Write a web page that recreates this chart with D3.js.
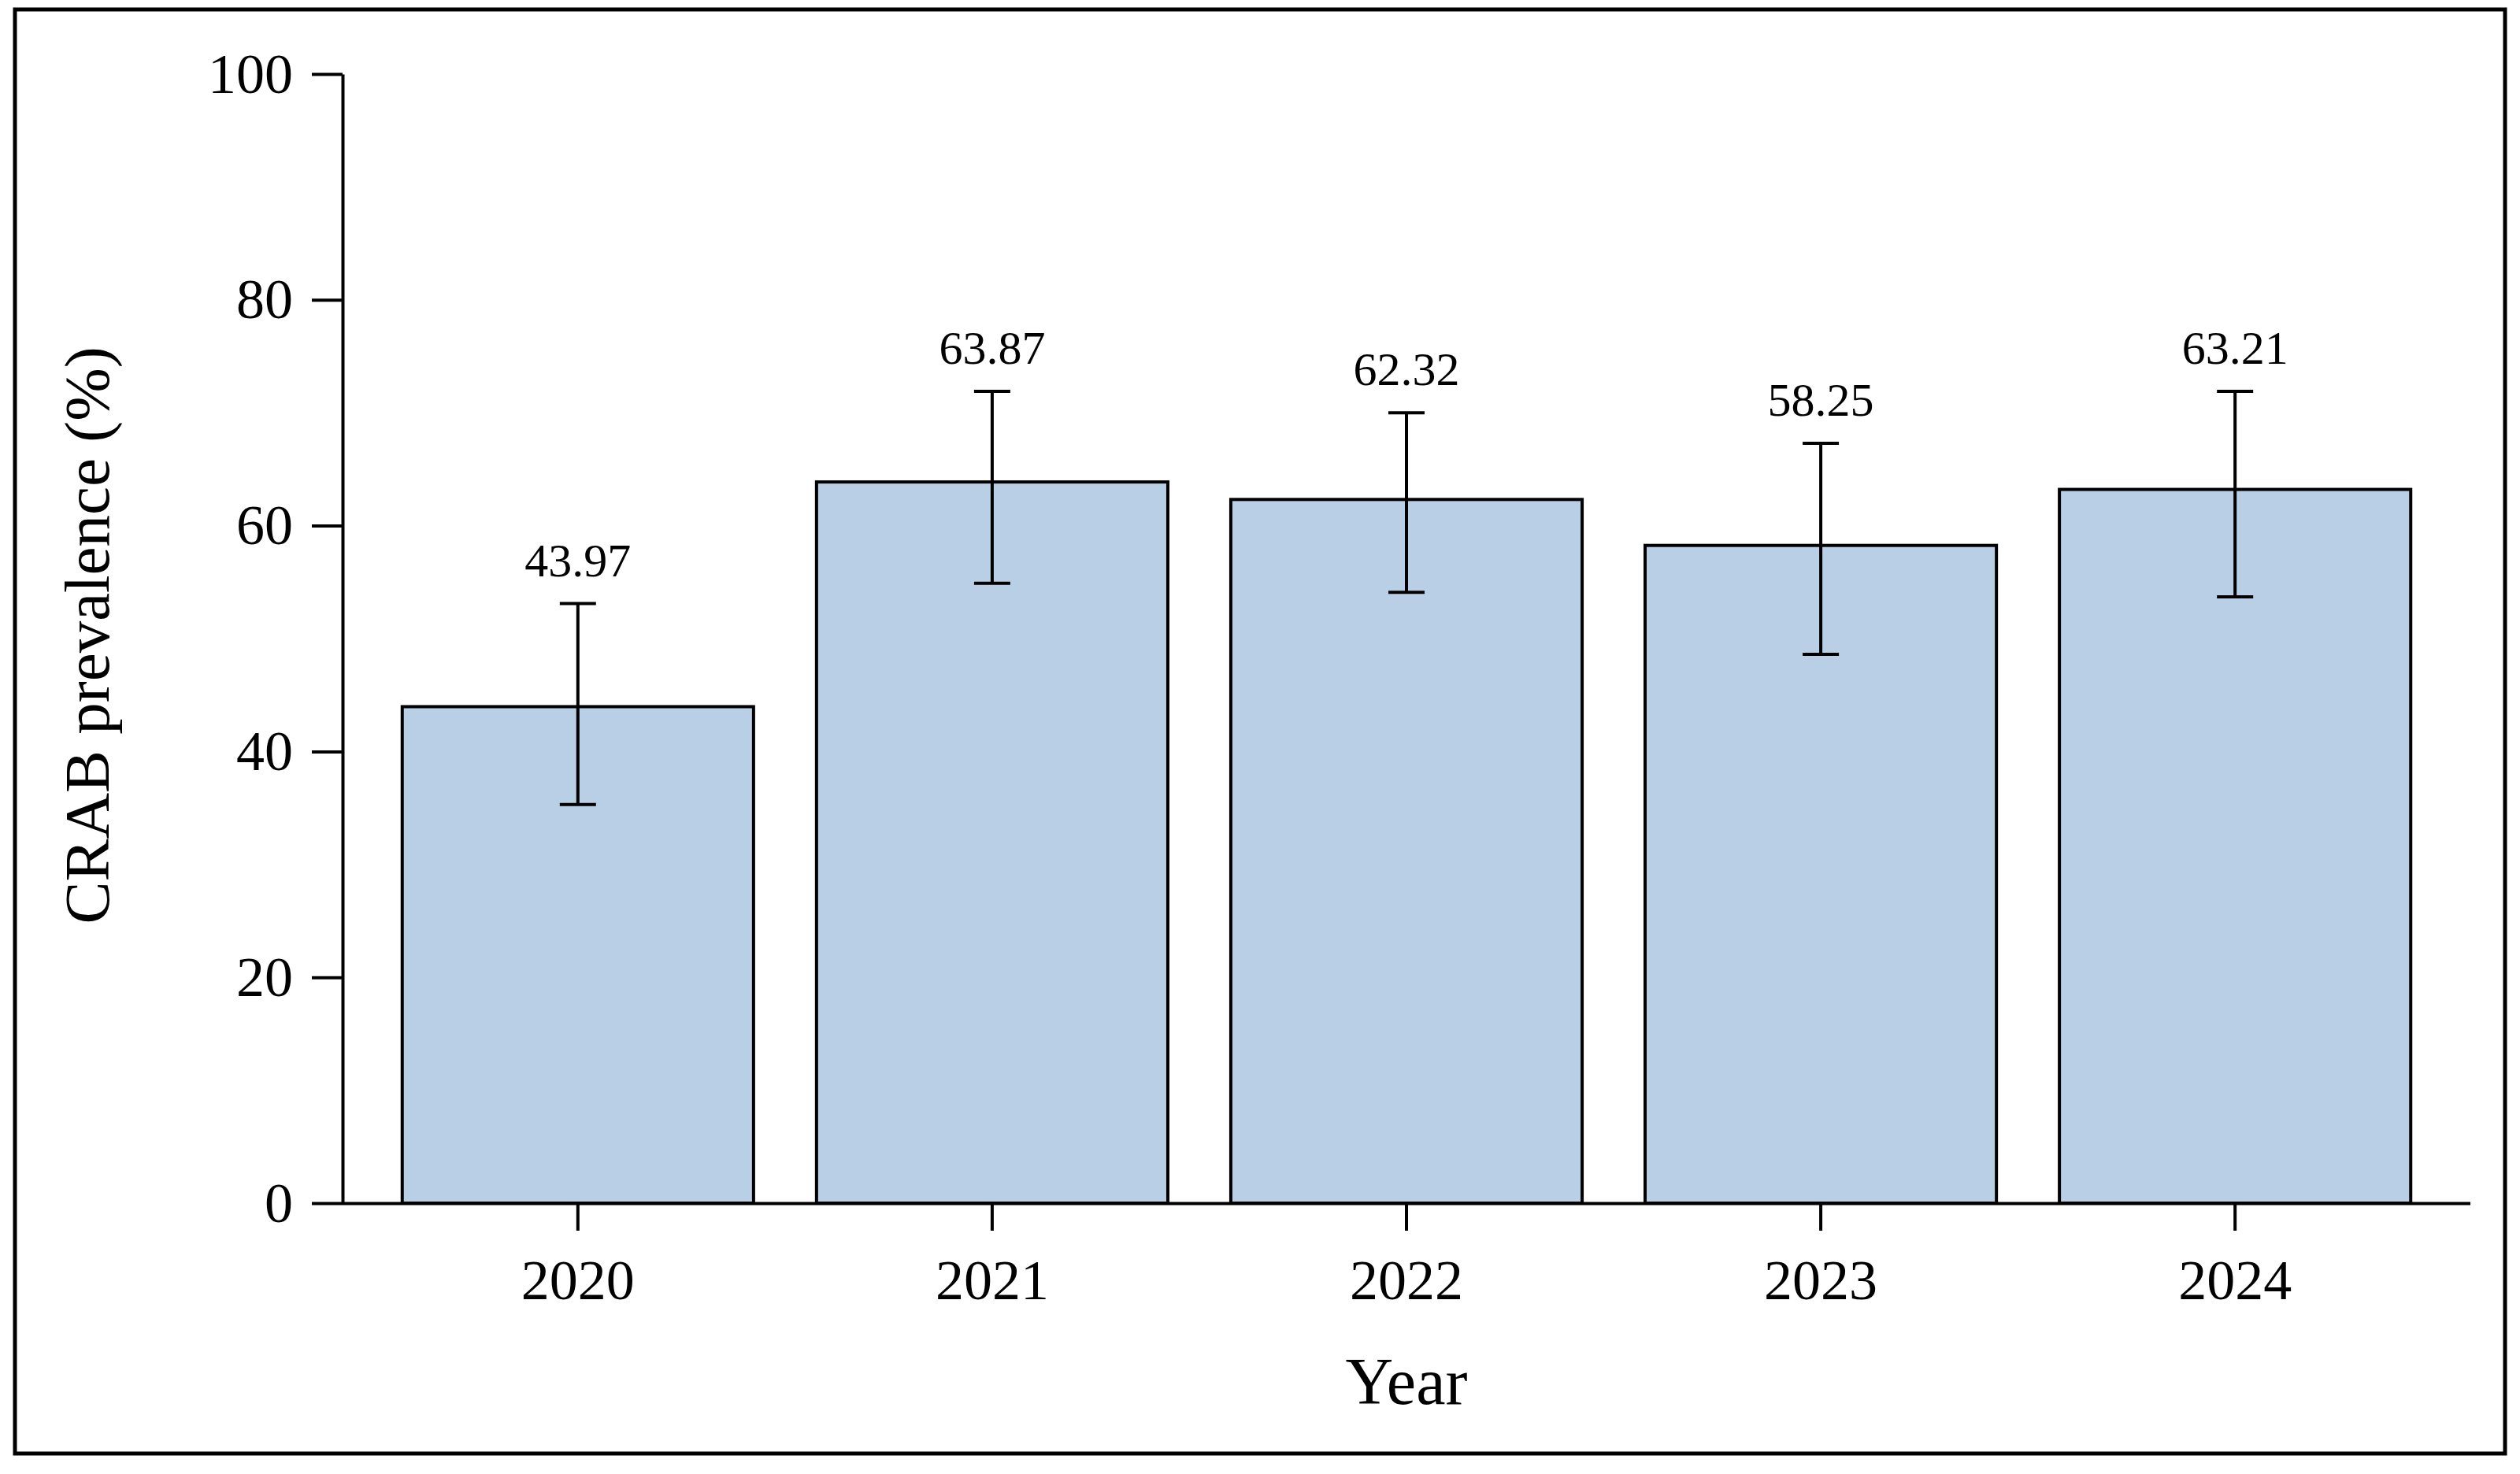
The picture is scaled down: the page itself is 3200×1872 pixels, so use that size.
<!DOCTYPE html>
<html>
<head>
<meta charset="utf-8">
<script src="https://cdn.jsdelivr.net/npm/d3@7"></script>
<style>
  body { margin: 0; background: #fff; }
  svg { display: block; }
  .axis text { font-family: "Liberation Serif", "Times New Roman", serif; fill: #000; }
</style>
</head>
<body>
<div id="chart"></div>
<script>
// data
const years = ["2020", "2021", "2022", "2023", "2024"];
const prevalence = [43.97, 63.87, 62.32, 58.25, 63.21];
const ciLower = [35.3, 54.9, 54.1, 48.6, 53.7];
const ciUpper = [53.1, 71.9, 70.0, 67.3, 71.9];
const yTicks = [0, 20, 40, 60, 80, 100];

let width = 3200;
let height = 1872;
let serif = '"Liberation Serif", "Times New Roman", serif';

let svg = d3.select("#chart")
    .append("svg")
    .attr("width", width)
    .attr("height", height);

svg.append("rect")
    .attr("width", width)
    .attr("height", height)
    .attr("fill", "#fff");

// outer frame
svg.append("rect")
    .attr("x", 19)
    .attr("y", 12)
    .attr("width", 3162)
    .attr("height", 1834)
    .attr("fill", "none")
    .attr("stroke", "#000")
    .attr("stroke-width", 5);

let plot = { left: 435, right: 3137, top: 94, bottom: 1528 };

let x = d3.scaleBand()
    .domain(years)
    .range([plot.left, plot.right])
    .paddingInner(0.152)
    .paddingOuter(0.144);

let y = d3.scaleLinear()
    .domain([0, 100])
    .range([plot.bottom, plot.top]);

let data = years.map((d, i) => ({
    year: d,
    value: prevalence[i],
    lo: ciLower[i],
    hi: ciUpper[i]
}));

// bars
svg.selectAll("rect.bar")
    .data(data)
    .enter()
    .append("rect")
    .attr("class", "bar")
    .attr("x", d => x(d.year))
    .attr("y", d => y(d.value))
    .attr("width", x.bandwidth())
    .attr("height", d => y(0) - y(d.value))
    .attr("fill", "#b9cfe6")
    .attr("stroke", "#000")
    .attr("stroke-width", 4);

// error bars
let err = svg.selectAll("g.err")
    .data(data)
    .enter()
    .append("g")
    .attr("class", "err")
    .attr("stroke", "#000")
    .attr("stroke-width", 4);

err.append("line")
    .attr("x1", d => x(d.year) + x.bandwidth() / 2)
    .attr("x2", d => x(d.year) + x.bandwidth() / 2)
    .attr("y1", d => y(d.lo))
    .attr("y2", d => y(d.hi));

let capHalf = 23;
err.append("line")
    .attr("x1", d => x(d.year) + x.bandwidth() / 2 - capHalf)
    .attr("x2", d => x(d.year) + x.bandwidth() / 2 + capHalf)
    .attr("y1", d => y(d.hi))
    .attr("y2", d => y(d.hi));

err.append("line")
    .attr("x1", d => x(d.year) + x.bandwidth() / 2 - capHalf)
    .attr("x2", d => x(d.year) + x.bandwidth() / 2 + capHalf)
    .attr("y1", d => y(d.lo))
    .attr("y2", d => y(d.lo));

// value labels above the upper whisker
svg.selectAll("text.val")
    .data(data)
    .enter()
    .append("text")
    .attr("class", "val")
    .attr("x", d => x(d.year) + x.bandwidth() / 2)
    .attr("y", d => y(d.hi) - 35)
    .attr("text-anchor", "middle")
    .attr("font-family", serif)
    .attr("font-size", 60)
    .text(d => d.value.toFixed(2));

// axes
let yAxis = svg.append("g")
    .attr("class", "axis")
    .attr("transform", `translate(${plot.left},0)`)
    .call(d3.axisLeft(y)
        .tickValues(yTicks)
        .tickSizeInner(39)
        .tickSizeOuter(0)
        .tickPadding(24));

let xAxis = svg.append("g")
    .attr("class", "axis")
    .attr("transform", `translate(0,${plot.bottom})`)
    .call(d3.axisBottom(x)
        .tickSizeInner(35)
        .tickSizeOuter(0)
        .tickPadding(36));

// stretch the x axis line over the full plot width
xAxis.select(".domain").attr("d", `M${plot.left},0.5H${plot.right}`);

svg.selectAll(".axis .domain, .axis .tick line")
    .attr("stroke", "#000")
    .attr("stroke-width", 4);
svg.selectAll(".axis text").attr("font-size", 72);

// axis titles
svg.append("text")
    .attr("transform", `translate(138,${(plot.top + plot.bottom) / 2 - 4}) rotate(-90)`)
    .attr("text-anchor", "middle")
    .attr("font-family", serif)
    .attr("font-size", 81)
    .text("CRAB prevalence (%)");

svg.append("text")
    .attr("x", (plot.left + plot.right) / 2)
    .attr("y", 1783)
    .attr("text-anchor", "middle")
    .attr("font-family", serif)
    .attr("font-size", 84)
    .text("Year");
</script>
</body>
</html>
